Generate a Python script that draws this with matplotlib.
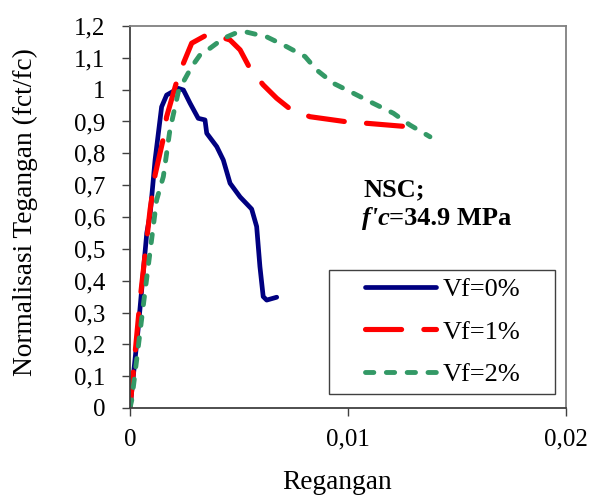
import matplotlib
matplotlib.use("Agg")
import matplotlib.pyplot as plt
from matplotlib.ticker import FuncFormatter, MultipleLocator
from matplotlib.patches import Rectangle

plt.rcParams['font.family'] = ['Liberation Serif', 'DejaVu Serif']
plt.rcParams['lines.scale_dashes'] = False

# Data (strain, normalized stress)
vf0_x = [0, 0.00037, 0.00077, 0.00092, 0.00115, 0.00145, 0.00168, 0.00222, 0.00245,
         0.00275, 0.00313, 0.00344, 0.00352, 0.00398, 0.00428, 0.00459, 0.00505, 0.00558,
         0.00581, 0.00596, 0.00611, 0.00627, 0.00673]
vf0_y = [0, 0.245, 0.55, 0.606, 0.779, 0.946, 0.983, 1.004, 0.999,
         0.958, 0.910, 0.905, 0.863, 0.821, 0.779, 0.706, 0.663, 0.625,
         0.570, 0.444, 0.350, 0.339, 0.348]

vf1_x = [0, 0.00046, 0.00092, 0.00115, 0.00153, 0.00168, 0.00214, 0.00245, 0.00283, 0.00352,
         0.00413, 0.00459, 0.00505, 0.00550, 0.00611, 0.00673, 0.00737, 0.00826, 0.00994,
         0.01093, 0.01269]
vf1_y = [0, 0.339, 0.622, 0.732, 0.847, 0.915, 1.025, 1.083, 1.146, 1.172,
         1.166, 1.156, 1.125, 1.067, 1.015, 0.973, 0.938, 0.915, 0.899,
         0.894, 0.884]

vf2_x = [0, 0.00008, 0.00064, 0.00122, 0.00153, 0.00183, 0.00222, 0.00245, 0.00283, 0.00321,
         0.00367, 0.00428, 0.00482, 0.00528, 0.00589, 0.00627, 0.00719, 0.00803, 0.00856,
         0.00933, 0.01024, 0.01116, 0.01208, 0.01284, 0.01376]
vf2_y = [0, 0.025, 0.339, 0.653, 0.727, 0.873, 0.994, 1.025, 1.072, 1.109,
         1.130, 1.161, 1.177, 1.182, 1.172, 1.166, 1.135, 1.104, 1.062,
         1.020, 0.989, 0.957, 0.926, 0.889, 0.852]

labels = ['Vf=0%', 'Vf=1%', 'Vf=2%']
x_ticks = [0, 0.01, 0.02]
y_max = 1.2

fig = plt.figure(figsize=(5.92, 4.98), dpi=100)
ax = fig.add_axes([130/592, 1-408/498, 436/592, 382/498])

ax.plot(vf0_x, vf0_y, color='#000080', lw=3.4, solid_capstyle='round',
        solid_joinstyle='round', label=labels[0])
ax.plot(vf1_x, vf1_y, color='#ff0000', lw=3.7, dashes=(26, 16),
        dash_capstyle='round', dash_joinstyle='round', label=labels[1])
ax.plot(vf2_x, vf2_y, color='#339966', lw=3.5, dashes=(6, 9),
        dash_capstyle='round', dash_joinstyle='round', label=labels[2])

ax.set_xlim(0, 0.02)
ax.set_ylim(0, y_max)
ax.set_xticks(x_ticks)
ax.yaxis.set_major_locator(MultipleLocator(0.1))

def comma(v, pos):
    s = '%g' % round(v, 4)
    return s.replace('.', ',')

ax.xaxis.set_major_formatter(FuncFormatter(comma))
ax.yaxis.set_major_formatter(FuncFormatter(comma))

ax.tick_params(direction='out', length=6, width=1.0, color='#404040', labelsize=18)
ax.tick_params(axis='y', pad=12)
ax.tick_params(axis='x', pad=9)

for side in ['left', 'bottom']:
    ax.spines[side].set_color('#404040')
    ax.spines[side].set_linewidth(1.3)
for side in ['top', 'right']:
    ax.spines[side].set_color('#808080')
    ax.spines[side].set_linewidth(1.3)

ax.set_xlabel('Regangan', fontsize=19.7)
ax.set_ylabel('Normalisasi Tegangan (fct/fc)', fontsize=19.7)
ax.xaxis.set_label_coords(0.476, -0.163)
ax.yaxis.set_label_coords(-0.211, 0.512)

# Annotation
ax.text(0.01069, 0.685, 'NSC;', fontsize=19, fontweight='bold', va='center', ha='left')
t1 = ax.text(0.01062, 0.575, "f'c", fontsize=19, fontweight='bold', fontstyle='italic',
             va='baseline', ha='left')
ax.annotate('=34.9 MPa', xy=(1, 0), xycoords=t1, fontsize=19, fontweight='bold',
            va='bottom', ha='left')

# Legend
rect = Rectangle((0.456, 0.037), 0.975-0.456, 0.361-0.037, transform=ax.transAxes,
                 facecolor='white', edgecolor='#404040', lw=1.0, zorder=4)
ax.add_patch(rect)
leg = ax.legend(loc='center', bbox_to_anchor=(0.717, 0.199), frameon=False,
                fontsize=19, handlelength=2.7, handletextpad=0.25, labelspacing=0.72,
                borderpad=0.0)
leg.set_zorder(5)

fig.savefig('out.png', dpi=100)
